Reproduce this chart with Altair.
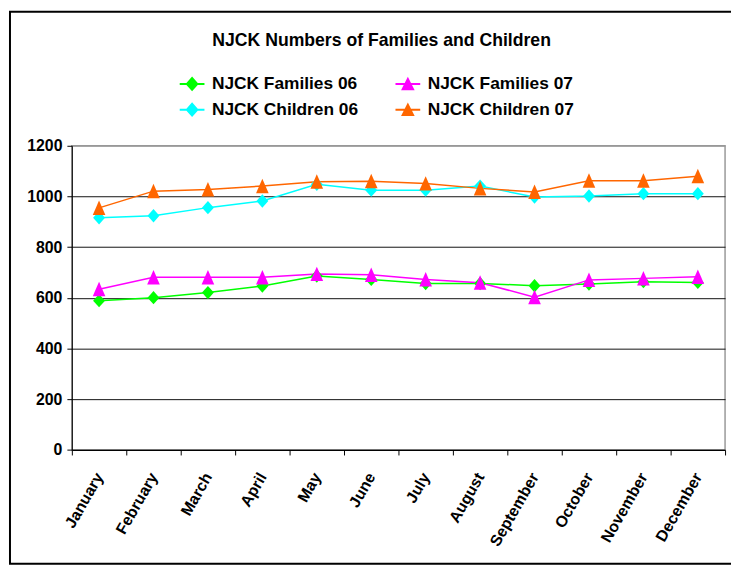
import altair as alt
import pandas as pd

months = ["January", "February", "March", "April", "May", "June", "July",
          "August", "September", "October", "November", "December"]
series_names = ["NJCK Families 06", "NJCK Families 07", "NJCK Children 06", "NJCK Children 07"]
families_06 = [589, 601, 621, 647, 686, 673, 657, 657, 648, 655, 664, 661]
families_07 = [634, 681, 681, 681, 694, 691, 673, 660, 603, 671, 677, 683]
children_06 = [916, 924, 956, 982, 1048, 1025, 1025, 1041, 998, 1002, 1011, 1011]
children_07 = [955, 1021, 1028, 1041, 1058, 1060, 1051, 1032, 1018, 1062, 1062, 1080]
colors = ["#00FF00", "#FF00FF", "#00FFFF", "#FF6600"]
y_ticks = [0, 200, 400, 600, 800, 1000, 1200]

DIAMOND = "M0,-0.9L0.8,0L0,0.9L-0.8,0Z"
TRIANGLE = "M0,-1L0.85,0.95L-0.85,0.95Z"
LEG_LINE = "M-1,-0.08H1V0.08H-1Z"
LEG_DIAMOND = LEG_LINE + "M0,-0.6L0.53,0L0,0.6L-0.53,0Z"
LEG_TRIANGLE = LEG_LINE + "M0,-0.58L0.55,0.52L-0.55,0.52Z"

rows = []
for name, vals in zip(series_names, [families_06, families_07, children_06, children_07]):
    for m, v in zip(months, vals):
        rows.append({"month": m, "series": name, "value": v})
df = pd.DataFrame(rows)

FONT = "Liberation Sans"

x_enc = alt.X(
    "month:N", sort=months,
    scale=alt.Scale(type="band", paddingInner=0, paddingOuter=0),
    axis=alt.Axis(
        title=None, tickBand="extent", labelAngle=-60, labelAlign="right", labelBaseline="middle",
        labelFont=FONT, labelFontSize=16, labelFontWeight="bold", labelColor="black",
        domainColor="black", tickColor="black", tickSize=5, labelPadding=19,
        gridColor="#111111", gridWidth=1, labelLimit=200,
    ),
)
y_enc = alt.Y(
    "value:Q",
    scale=alt.Scale(domain=[0, 1200]),
    axis=alt.Axis(
        title=None, values=y_ticks, format="d", labelFont=FONT, labelFontSize=16, labelFontWeight="bold",
        labelColor="black", domainColor="black", tickColor="black", tickSize=5, labelPadding=5,
        gridColor=alt.condition("datum.value == 1200", alt.value("#999999"), alt.value("#111111")),
        gridWidth=1,
    ),
)

color_scale = alt.Scale(domain=series_names, range=colors)

base = alt.Chart(df)

lines = base.mark_line(strokeWidth=1.5).encode(
    x=x_enc, y=y_enc,
    color=alt.Color("series:N", scale=color_scale, legend=None),
)

points = base.mark_point(filled=True, size=225, opacity=1, strokeWidth=0).encode(
    x=x_enc, y=y_enc,
    color=alt.Color("series:N", scale=color_scale, legend=None),
    shape=alt.Shape("series:N", scale=alt.Scale(domain=series_names,
                                                range=[DIAMOND, TRIANGLE, DIAMOND, TRIANGLE]),
                    legend=None),
)

# legend entries fill column by column, so order them for a 2x2 grid read row by row
legend_order = [series_names[0], series_names[2], series_names[1], series_names[3]]
legend_colors = [colors[0], colors[2], colors[1], colors[3]]
legend_shapes = [LEG_DIAMOND, LEG_DIAMOND, LEG_TRIANGLE, LEG_TRIANGLE]

leg = alt.Legend(
    title=None, orient="none", legendX=109, legendY=-75, columns=2, padding=0,
    labelFont=FONT, labelFontSize=17.5, labelFontWeight="bold", labelColor="black",
    symbolSize=625, symbolStrokeWidth=0, labelOffset=7.5, columnPadding=37, rowPadding=5,
    labelLimit=300,
)

legend_layer = base.transform_filter("false").mark_point(filled=True, size=625, opacity=1).encode(
    color=alt.Color("series:N", scale=alt.Scale(domain=legend_order, range=legend_colors), legend=leg),
    shape=alt.Shape("series:N", scale=alt.Scale(domain=legend_order, range=legend_shapes), legend=leg),
)

frame = alt.Chart(pd.DataFrame({"k": [0]})).mark_rect(
    fillOpacity=0, stroke="black", strokeWidth=2
).encode(
    x=alt.value(-62.5), x2=alt.value(700), y=alt.value(-135.3), y2=alt.value(422.2)
)

chart = alt.layer(frame, lines, points, legend_layer).resolve_scale(
    color="independent", shape="independent"
).properties(
    width=660, height=307.4,
    autosize=alt.AutoSizeParams(type="none"),
    padding={"left": 64.5, "top": 136.3, "right": 6, "bottom": 116.3},
    title=alt.TitleParams(
        text="NJCK Numbers of Families and Children", font=FONT, fontSize=17.8, fontWeight="bold",
        color="black", anchor="middle", frame="group", dx=-17, offset=0, dy=53, baseline="alphabetic",
    ),
).configure_view(stroke="#999999", strokeWidth=1.5)

chart.save("out.html", embed_options={"renderer": "svg", "actions": False})
